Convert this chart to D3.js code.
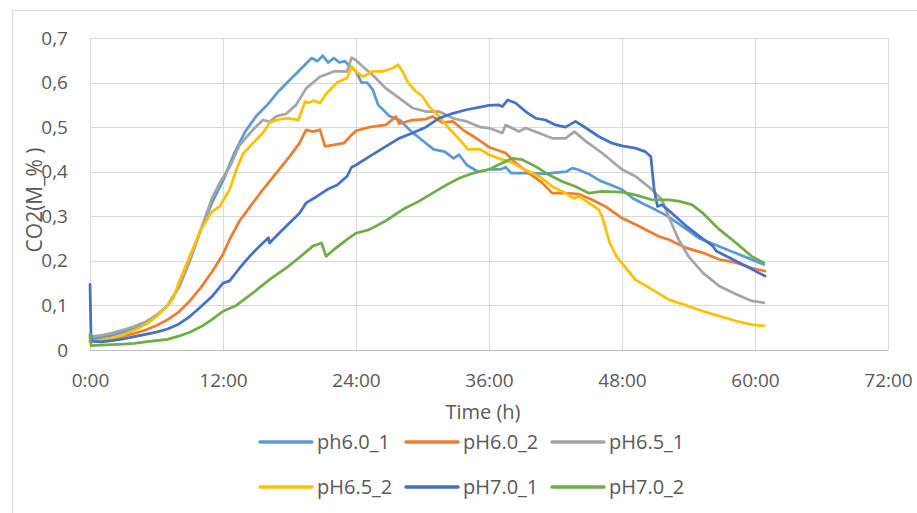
<!doctype html>
<html lang='en'>

<head>
    <meta charset='UTF-8'>
    <title>CO2 curves</title>
    <script src='https://cdn.jsdelivr.net/npm/d3@7/dist/d3.min.js'></script>
    <style>
        body { margin: 0; background: #fff; }
        text { font-family: 'Open Sans', 'Liberation Sans', sans-serif; fill: #595959; }
    </style>
    <script>
        // time (h), CO2 value
        const ph60_1 = [[0, 0.025], [1, 0.028], [2, 0.033], [3, 0.04], [4, 0.05], [5, 0.062], [6, 0.078], [7, 0.1], [8, 0.14], [9, 0.2], [10, 0.27], [11, 0.33], [12, 0.38], [13, 0.44], [14, 0.49], [15, 0.525], [16, 0.55], [17, 0.58], [18, 0.605], [19, 0.63], [20, 0.655], [20.5, 0.648], [21, 0.66], [21.5, 0.645], [22, 0.655], [22.5, 0.645], [23, 0.648], [23.5, 0.635], [24, 0.625], [24.5, 0.6], [25, 0.6], [25.5, 0.585], [26, 0.55], [27, 0.525], [28, 0.515], [29, 0.49], [30, 0.47], [31, 0.45], [32, 0.445], [32.8, 0.43], [33.3, 0.438], [34, 0.415], [35, 0.4], [36, 0.405], [37, 0.405], [37.5, 0.41], [38, 0.397], [39, 0.397], [40, 0.397], [41, 0.395], [42, 0.398], [43, 0.4], [43.5, 0.408], [44, 0.405], [45, 0.395], [46, 0.38], [47, 0.37], [48, 0.36], [49, 0.34], [50, 0.327], [51, 0.315], [52, 0.302], [53, 0.285], [54, 0.268], [55, 0.25], [56, 0.24], [57, 0.23], [58, 0.22], [59, 0.21], [60, 0.2], [60.8, 0.192]];
        const ph60_2 = [[0, 0.02], [1, 0.022], [2, 0.026], [3, 0.031], [4, 0.037], [5, 0.045], [6, 0.055], [7, 0.068], [8, 0.085], [9, 0.11], [10, 0.14], [11, 0.175], [12, 0.215], [12.6, 0.248], [13.5, 0.29], [14.4, 0.32], [15.6, 0.36], [16.8, 0.397], [18, 0.434], [18.9, 0.464], [19.5, 0.494], [20.1, 0.49], [20.75, 0.494], [21.2, 0.457], [22, 0.46], [22.9, 0.464], [23.5, 0.48], [24, 0.492], [25.2, 0.5], [26.7, 0.505], [27.6, 0.524], [27.9, 0.508], [29.1, 0.516], [30.3, 0.518], [30.9, 0.524], [31.8, 0.51], [32.75, 0.513], [33.65, 0.494], [34.6, 0.479], [35.5, 0.464], [36, 0.455], [36.6, 0.45], [37.5, 0.442], [38.4, 0.42], [39.6, 0.397], [40.8, 0.375], [41.7, 0.352], [42.9, 0.352], [44.1, 0.35], [45.3, 0.337], [46.5, 0.322], [48, 0.296], [49.5, 0.278], [51.3, 0.255], [52.2, 0.248], [53.8, 0.229], [55.3, 0.218], [56.8, 0.203], [58.3, 0.196], [59.7, 0.184], [60.9, 0.177]];
        const ph65_1 = [[0, 0.03], [1, 0.033], [2, 0.038], [3, 0.045], [4, 0.053], [5, 0.063], [6, 0.077], [7, 0.1], [8, 0.14], [9, 0.2], [10, 0.27], [11, 0.34], [11.7, 0.375], [12.6, 0.41], [13.5, 0.46], [14.7, 0.494], [15.6, 0.516], [16.2, 0.512], [16.8, 0.524], [17.7, 0.53], [18.6, 0.55], [19.5, 0.587], [20.75, 0.613], [22, 0.625], [23.2, 0.625], [23.6, 0.656], [24, 0.65], [24.6, 0.636], [25.5, 0.617], [26.7, 0.587], [27.9, 0.565], [29.1, 0.543], [30.3, 0.535], [31.5, 0.535], [32.75, 0.52], [33.95, 0.513], [35.2, 0.5], [36, 0.498], [37.2, 0.487], [37.5, 0.505], [38.7, 0.49], [39.3, 0.498], [40.5, 0.487], [41.7, 0.475], [42.9, 0.475], [43.7, 0.49], [44.75, 0.468], [46.2, 0.442], [48, 0.405], [49.2, 0.39], [50.7, 0.36], [51.6, 0.337], [52.2, 0.3], [53.1, 0.248], [54, 0.21], [55.3, 0.173], [56.8, 0.143], [58.3, 0.125], [59.7, 0.11], [60.8, 0.106]];
        const ph65_2 = [[0, 0.018], [1, 0.022], [2, 0.027], [3, 0.034], [4, 0.044], [5, 0.057], [6, 0.075], [7, 0.1], [7.5, 0.115], [8, 0.15], [9, 0.21], [10, 0.27], [11, 0.31], [11.7, 0.322], [12.6, 0.36], [13.2, 0.404], [13.8, 0.44], [14.7, 0.464], [15.6, 0.487], [16.2, 0.51], [16.8, 0.516], [17.7, 0.52], [18.8, 0.516], [19.4, 0.557], [19.8, 0.555], [20.2, 0.56], [20.75, 0.554], [21.35, 0.576], [22.3, 0.6], [23.2, 0.61], [23.6, 0.636], [24, 0.625], [24.6, 0.613], [25.5, 0.625], [26.4, 0.625], [27.3, 0.632], [27.8, 0.64], [28.2, 0.625], [28.7, 0.6], [29.4, 0.58], [30, 0.569], [30.6, 0.546], [31.5, 0.524], [32.5, 0.494], [33.35, 0.472], [34.1, 0.45], [35.2, 0.45], [36, 0.438], [36.9, 0.43], [38.1, 0.42], [39.3, 0.404], [40.5, 0.39], [41.7, 0.367], [42.9, 0.352], [43.7, 0.34], [44.1, 0.345], [45, 0.33], [45.9, 0.315], [46.2, 0.3], [46.9, 0.24], [47.5, 0.21], [48, 0.195], [49.2, 0.158], [50.7, 0.136], [52.2, 0.113], [53.8, 0.1], [55.3, 0.087], [56.8, 0.076], [58.3, 0.065], [59.7, 0.057], [60.8, 0.054]];
        const ph70_1 = [[0, 0.147], [0.1, 0.02], [1, 0.018], [2, 0.021], [3, 0.025], [4, 0.03], [5, 0.035], [6, 0.04], [7, 0.047], [8, 0.058], [9, 0.075], [10, 0.097], [11, 0.12], [12, 0.15], [12.6, 0.155], [13.5, 0.184], [14.4, 0.21], [15.3, 0.233], [16.1, 0.252], [16.2, 0.24], [17.1, 0.263], [18, 0.285], [18.9, 0.307], [19.5, 0.33], [20.5, 0.345], [21.4, 0.36], [22.3, 0.37], [23.2, 0.39], [23.6, 0.41], [24, 0.415], [25.2, 0.434], [26.7, 0.457], [27.9, 0.475], [29.1, 0.487], [30.3, 0.5], [31.5, 0.52], [32.75, 0.531], [33.95, 0.539], [35.2, 0.545], [36, 0.549], [36.9, 0.55], [37.2, 0.546], [37.7, 0.561], [38.4, 0.554], [39.3, 0.535], [40.2, 0.52], [41.1, 0.516], [42, 0.505], [42.9, 0.5], [43.8, 0.513], [44.75, 0.498], [45.9, 0.479], [47.1, 0.464], [48, 0.458], [49.2, 0.453], [50.1, 0.445], [50.6, 0.434], [50.9, 0.36], [51.2, 0.322], [51.6, 0.326], [52.5, 0.307], [53.8, 0.278], [55, 0.255], [56.2, 0.233], [56.5, 0.222], [57.7, 0.207], [59.2, 0.188], [60.9, 0.166]];
        const ph70_2 = [[0, 0.035], [0.1, 0.01], [1, 0.011], [2, 0.012], [3, 0.013], [4, 0.015], [5, 0.018], [6, 0.021], [7, 0.024], [8, 0.031], [9, 0.04], [10, 0.052], [11, 0.068], [12, 0.087], [13.2, 0.1], [14.7, 0.128], [16.2, 0.158], [17.7, 0.184], [19.2, 0.214], [20.1, 0.233], [20.9, 0.24], [21.3, 0.21], [22, 0.225], [23.2, 0.248], [24, 0.262], [25.2, 0.27], [26.7, 0.29], [28.2, 0.315], [29.7, 0.334], [30.9, 0.352], [32.2, 0.371], [33.35, 0.386], [34.6, 0.397], [36, 0.405], [36.9, 0.416], [38.1, 0.43], [39, 0.427], [40.2, 0.412], [41.4, 0.393], [42.6, 0.378], [43.8, 0.367], [45, 0.352], [46.2, 0.356], [48, 0.354], [49.2, 0.348], [50.7, 0.337], [52.2, 0.337], [53.1, 0.334], [54.3, 0.326], [55.3, 0.307], [56.8, 0.27], [58.3, 0.24], [59.7, 0.21], [60.8, 0.196]];

        const SERIES_NAMES = ['ph6.0_1', 'pH6.0_2', 'pH6.5_1', 'pH6.5_2', 'pH7.0_1', 'pH7.0_2'];
        const SERIES_DATA = [ph60_1, ph60_2, ph65_1, ph65_2, ph70_1, ph70_2];
        const SERIES_COLORS = ['#5B9BD5', '#ED7D31', '#A5A5A5', '#FFC000', '#4472C4', '#70AD47'];
        const X_TICKS = [0, 12, 24, 36, 48, 60, 72];
        const Y_TICKS = [0, 0.1, 0.2, 0.3, 0.4, 0.5, 0.6, 0.7];

        const SIZE = { width: 917, height: 513 };
        const PLOT = { left: 90, right: 888, top: 38, bottom: 350 };

        function draw() {
            let svg = d3.select('#chart').append('svg')
                .attr('width', SIZE.width).attr('height', SIZE.height);

            // outer chart border (cut off at right / bottom in the original)
            svg.append('rect')
                .attr('x', 12.5).attr('y', 10.5)
                .attr('width', SIZE.width).attr('height', SIZE.height)
                .attr('fill', 'none').attr('stroke', '#d9d9d9');

            let xScale = d3.scaleLinear().domain([0, 72]).range([PLOT.left, PLOT.right]);
            let yScale = d3.scaleLinear().domain([0, 0.7]).range([PLOT.bottom, PLOT.top]);
            let comma = d3.formatLocale({ decimal: ',', thousands: '.', grouping: [3], currency: ['', ''] });
            let yFmt = function (d) { return d === 0 ? '0' : comma.format('.1f')(d); };

            // grid
            svg.append('g')
                .attr('transform', 'translate(0,' + PLOT.bottom + ')')
                .call(d3.axisBottom(xScale).tickValues(X_TICKS).tickSize(-(PLOT.bottom - PLOT.top)).tickFormat(''))
                .call(g => g.select('.domain').remove())
                .selectAll('line').attr('stroke', '#d9d9d9').attr('shape-rendering', 'crispEdges');
            svg.append('g')
                .attr('transform', 'translate(' + PLOT.left + ',0)')
                .call(d3.axisLeft(yScale).tickValues(Y_TICKS).tickSize(-(PLOT.right - PLOT.left)).tickFormat(''))
                .call(g => g.select('.domain').remove())
                .selectAll('line').attr('stroke', '#d9d9d9').attr('shape-rendering', 'crispEdges');

            // axis labels
            let xAxis = svg.append('g')
                .attr('transform', 'translate(0,' + PLOT.bottom + ')')
                .call(d3.axisBottom(xScale).tickValues(X_TICKS).tickSize(0).tickPadding(24)
                    .tickFormat(function (d) { return d + ':00'; }));
            xAxis.select('.domain').attr('stroke', '#bfbfbf');
            xAxis.selectAll('text').style('font-size', '19px').attr('fill', '#595959');

            let yAxis = svg.append('g')
                .attr('transform', 'translate(' + 68 + ',0)')
                .call(d3.axisLeft(yScale).tickValues(Y_TICKS).tickSize(0).tickPadding(0).tickFormat(yFmt));
            yAxis.select('.domain').remove();
            yAxis.selectAll('text').style('font-size', '19px').attr('fill', '#595959');

            // titles
            svg.append('text')
                .attr('transform', 'translate(42,200)rotate(-90)')
                .attr('text-anchor', 'middle')
                .style('font-size', '21px')
                .text('CO2(M_% )');
            svg.append('text')
                .attr('x', 483).attr('y', 419)
                .attr('text-anchor', 'middle')
                .style('font-size', '20px')
                .text('Time (h)');

            // lines
            let line = d3.line()
                .x(function (d) { return xScale(d[0]); })
                .y(function (d) { return yScale(d[1]); });
            SERIES_DATA.forEach(function (data, i) {
                svg.append('path')
                    .attr('d', line(data))
                    .attr('fill', 'none')
                    .attr('stroke', SERIES_COLORS[i])
                    .attr('stroke-width', 2.75)
                    .attr('stroke-linejoin', 'round')
                    .attr('stroke-linecap', 'round');
            });

            // legend, 3 per row
            let legend = svg.append('g');
            SERIES_NAMES.forEach(function (name, i) {
                let gx = 260 + (i % 3) * 146;
                let gy = 442 + Math.floor(i / 3) * 45;
                let item = legend.append('g').attr('transform', 'translate(' + gx + ',' + gy + ')');
                item.append('line')
                    .attr('x1', 0).attr('x2', 52)
                    .attr('stroke', SERIES_COLORS[i])
                    .attr('stroke-width', 3.5)
                    .attr('stroke-linecap', 'round');
                item.append('text')
                    .attr('x', 57).attr('y', 7)
                    .style('font-size', '20px')
                    .text(name);
            });
        }

        window.onload = function () {
            draw();
        }
    </script>
</head>

<body>
    <div id='chart'></div>
</body>

</html>
